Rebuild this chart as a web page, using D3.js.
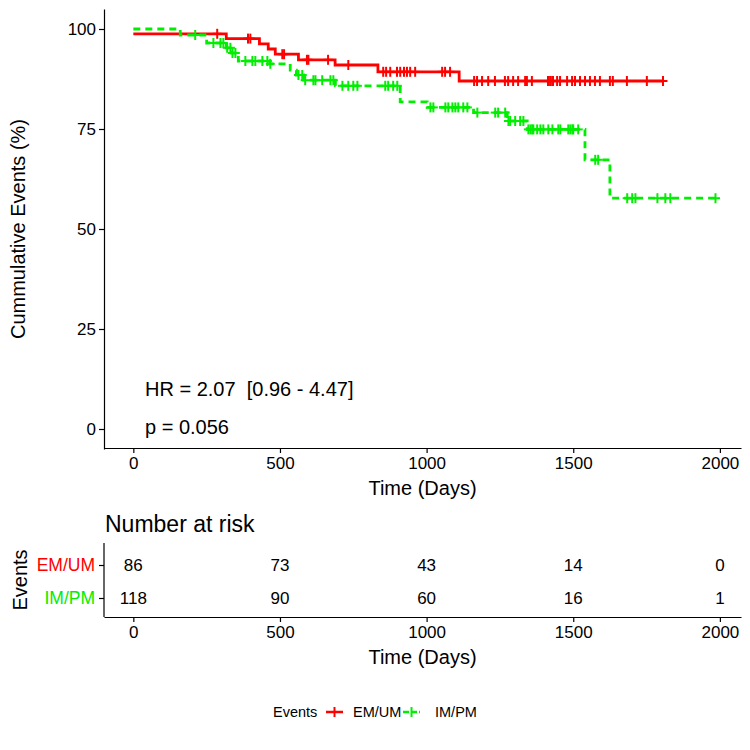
<!DOCTYPE html>
<html>
<head>
<meta charset="utf-8">
<script src="https://cdn.jsdelivr.net/npm/d3@7"></script>
<style>
  body { margin: 0; background: #fff; }
  text { font-family: "Liberation Sans", Arial, sans-serif; }
</style>
</head>
<body>
<svg id="chart" width="750" height="750"></svg>
<script>
// ---------------- data ----------------
const groups = ["EM/UM", "IM/PM"];
const groupColors = ["#ff0000", "#00ee00"];

// step curves: time (days) at which survival changes, survival (%) after it
const emTimes = [0, 317, 430, 460, 484, 563, 688, 834, 1111];
const emSurv  = [98.8, 97.6, 96.3, 95.0, 93.7, 92.3, 91.0, 89.3, 87.0];
const emEnd = 1806;
const emCensor = [286, 391, 399, 508, 514, 592, 597, 664, 733, 852, 862, 876, 899, 910, 923, 933, 944, 961,
  1053, 1063, 1080, 1162, 1172, 1189, 1210, 1233, 1267, 1278, 1295, 1312, 1336, 1342, 1359, 1414, 1421,
  1428, 1431, 1445, 1455, 1479, 1496, 1506, 1523, 1540, 1557, 1574, 1591, 1625, 1635, 1683, 1751, 1806];

const imTimes = [0, 160, 250, 317, 334, 358, 465, 535, 556, 580, 689, 910, 1002, 1160, 1275, 1343, 1540, 1625];
const imSurv  = [100, 98.5, 96.5, 95.3, 94.0, 92.0, 91.3, 89.7, 88.5, 87.2, 85.8, 81.8, 80.4, 79.1, 77.0, 74.9, 67.3, 57.7];
const imEnd = 1985;
const imCensor = [211, 273, 297, 307, 320, 331, 338, 348, 382, 406, 416, 440, 457, 467, 563, 576, 586, 614, 621,
  644, 672, 682, 713, 733, 750, 764, 859, 869, 886, 900, 1013, 1023, 1064, 1074, 1088, 1098, 1108, 1125, 1139,
  1173, 1234, 1244, 1268, 1279, 1285, 1302, 1319, 1330, 1347, 1354, 1360, 1364, 1377, 1388, 1398, 1415, 1429,
  1449, 1456, 1483, 1490, 1497, 1500, 1517, 1575, 1585, 1684, 1701, 1712, 1787, 1814, 1831, 1985];

const xTicks = [0, 500, 1000, 1500, 2000];
const yTicks = [0, 25, 50, 75, 100];
const riskEM = [86, 73, 43, 14, 0];
const riskIM = [118, 90, 60, 16, 1];
const hrText = "HR = 2.07  [0.96 - 4.47]";
const pText = "p = 0.056";

// ---------------- drawing ----------------
const svg = d3.select("#chart");
const x = d3.scaleLinear().domain([-100, 2072]).range([104, 741]);
const y = d3.scaleLinear().domain([-5, 105]).range([449, 9]);
const xMid = (104 + 741) / 2;

function styleAxis(g) {
  g.selectAll("text").style("font-size", "17px").style("fill", "#000");
  g.selectAll("path,line").attr("stroke", "#000").attr("stroke-width", 1.2);
}

// main axes
const gx = svg.append("g").attr("transform", "translate(0,448)")
  .call(d3.axisBottom(x).tickValues(xTicks).tickFormat(d3.format("d")).tickSize(5).tickSizeOuter(0).tickPadding(4));
const gy = svg.append("g").attr("transform", "translate(104,0)")
  .call(d3.axisLeft(y).tickValues(yTicks).tickFormat(d3.format("d")).tickSize(5).tickSizeOuter(0).tickPadding(3));
styleAxis(gx); styleAxis(gy);

svg.append("text").attr("x", xMid).attr("y", 495).attr("text-anchor", "middle")
  .style("font-size", "20px").text("Time (Days)");
svg.append("text").attr("transform", "translate(25,229) rotate(-90)").attr("text-anchor", "middle")
  .style("font-size", "20px").text("Cummulative Events (%)");

// curves
function stepPoints(times, surv, end) {
  const pts = times.map((t, i) => [t, surv[i]]);
  pts.push([end, surv[surv.length - 1]]);
  return pts;
}
function survAt(times, surv, t) {
  let v = surv[0];
  for (let i = 0; i < times.length; i++) if (times[i] <= t) v = surv[i];
  return v;
}
const line = d3.line().x(d => x(d[0])).y(d => y(d[1])).curve(d3.curveStepAfter);

const series = [
  { times: emTimes, surv: emSurv, end: emEnd, censor: emCensor, color: groupColors[0], dash: null },
  { times: imTimes, surv: imSurv, end: imEnd, censor: imCensor, color: groupColors[1], dash: "7,5" }
];
series.forEach(s => {
  svg.append("path").datum(stepPoints(s.times, s.surv, s.end))
    .attr("d", line).attr("fill", "none").attr("stroke", s.color)
    .attr("stroke-width", 2.8).attr("stroke-dasharray", s.dash);
  const g = svg.append("g").attr("stroke", s.color).attr("stroke-width", 2);
  s.censor.forEach(t => {
    const cx = x(t), cy = y(survAt(s.times, s.surv, t));
    g.append("line").attr("x1", cx).attr("x2", cx).attr("y1", cy - 5).attr("y2", cy + 5);
    g.append("line").attr("x1", cx - 4.5).attr("x2", cx + 4.5).attr("y1", cy).attr("y2", cy);
  });
});

svg.append("text").attr("x", 145).attr("y", 396).style("font-size", "20px")
  .style("white-space", "pre").attr("xml:space", "preserve").text(hrText);
svg.append("text").attr("x", 145).attr("y", 434).style("font-size", "20px").text(pText);

// ---------------- risk table ----------------
svg.append("text").attr("x", 105).attr("y", 532).style("font-size", "23px").text("Number at risk");
const yr = d3.scalePoint().domain(groups).range([565, 598]);
const rx = svg.append("g").attr("transform", "translate(0,617)")
  .call(d3.axisBottom(x).tickValues(xTicks).tickFormat(d3.format("d")).tickSize(5).tickSizeOuter(0).tickPadding(4));
const ry = svg.append("g").attr("transform", "translate(104,0)")
  .call(d3.axisLeft(yr).tickSize(5).tickSizeOuter(0).tickPadding(4));
ry.select(".domain").attr("d", "M0,543V617");
styleAxis(rx); styleAxis(ry);
ry.selectAll(".tick text").style("fill", (d, i) => groupColors[i]).style("font-size", "17.5px");

[riskEM, riskIM].forEach((arr, gi) => {
  arr.forEach((v, i) => {
    svg.append("text").attr("x", x(xTicks[i])).attr("y", yr(groups[gi]) + 6)
      .attr("text-anchor", "middle").style("font-size", "17px").text(v);
  });
});
svg.append("text").attr("x", xMid).attr("y", 664).attr("text-anchor", "middle")
  .style("font-size", "20px").text("Time (Days)");
svg.append("text").attr("transform", "translate(27,580) rotate(-90)").attr("text-anchor", "middle")
  .style("font-size", "20px").text("Events");

// ---------------- legend ----------------
const lg = svg.append("g");
lg.append("text").attr("x", 273).attr("y", 717).style("font-size", "14.5px").text("Events");
const keyX = [326, 403], labX = [353, 435];
groups.forEach((gname, i) => {
  lg.append("line").attr("x1", keyX[i]).attr("x2", keyX[i] + 17).attr("y1", 712).attr("y2", 712)
    .attr("stroke", groupColors[i]).attr("stroke-width", 2.5).attr("stroke-dasharray", i === 1 ? "6,2" : null);
  lg.append("line").attr("x1", keyX[i] + 8.5).attr("x2", keyX[i] + 8.5).attr("y1", 707).attr("y2", 717)
    .attr("stroke", groupColors[i]).attr("stroke-width", 2);
  lg.append("text").attr("x", labX[i]).attr("y", 717).style("font-size", "14.5px").text(gname);
});
</script>
</body>
</html>
